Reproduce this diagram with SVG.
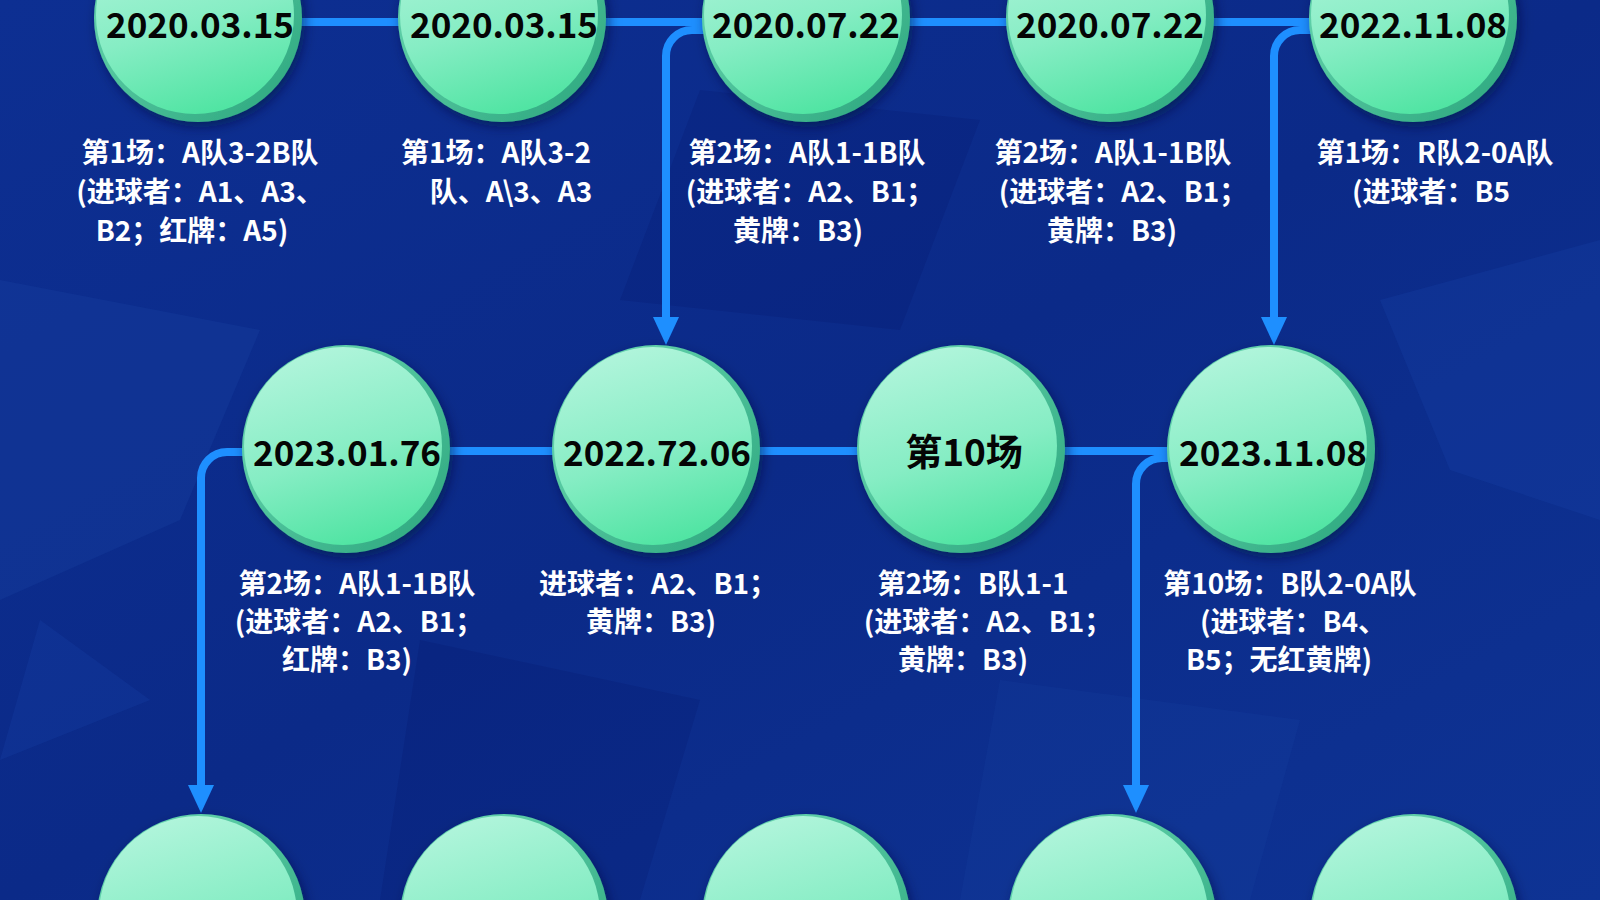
<svg xmlns="http://www.w3.org/2000/svg" width="1600" height="900" viewBox="0 0 1600 900">
<defs>
<linearGradient id="bg" x1="0" y1="0" x2="1" y2="1">
<stop offset="0" stop-color="#0d2f92"/>
<stop offset="0.5" stop-color="#0b2a88"/>
<stop offset="1" stop-color="#0e3394"/>
</linearGradient>
<linearGradient id="face" x1="0.3" y1="0" x2="0.6" y2="1">
<stop offset="0" stop-color="#b2f5dc"/>
<stop offset="0.55" stop-color="#86edc4"/>
<stop offset="1" stop-color="#4fe4a2"/>
</linearGradient>
<linearGradient id="rim" x1="0" y1="0" x2="1" y2="1">
<stop offset="0" stop-color="#6fdcb6"/>
<stop offset="1" stop-color="#2aa57c"/>
</linearGradient>
<filter id="sh" x="-30%" y="-30%" width="160%" height="160%">
<feDropShadow dx="3" dy="5" stdDeviation="6" flood-color="#020c3a" flood-opacity="0.55"/>
</filter>
<marker id="arr" markerUnits="userSpaceOnUse" markerWidth="28" markerHeight="28" viewBox="0 0 28 28" refX="8" refY="14" orient="auto">
<path d="M0,1 L28,14 L0,27 z" fill="#1e8fff"/>
</marker>
<g id="ball">
<circle r="104" fill="url(#rim)" filter="url(#sh)"/>
<circle cx="-3" cy="-3" r="99" fill="url(#face)"/>
</g>
</defs>
<style>
.lnk{fill:none;stroke:#1e8fff;stroke-width:8;}
.arw{marker-end:url(#arr);}
.dt{font-family:"Noto Sans CJK SC","Noto Sans",sans-serif;font-weight:700;font-size:35px;fill:#050505;text-anchor:middle;}
.dc{font-size:37px;}
.lb{font-family:"Noto Sans CJK SC","Noto Sans",sans-serif;font-weight:700;font-size:28px;fill:#ffffff;text-anchor:middle;}
</style>
<rect width="1600" height="900" fill="url(#bg)"/>
<g id="texture">
<polygon points="0,280 260,330 180,520 0,600" fill="#1a46a8" opacity="0.25"/>
<polygon points="700,90 980,120 900,330 620,300" fill="#000a50" opacity="0.12"/>
<polygon points="1380,300 1600,240 1600,520 1450,470" fill="#1d4ab0" opacity="0.22"/>
<polygon points="420,640 700,700 640,900 380,900" fill="#000a50" opacity="0.12"/>
<polygon points="1000,680 1300,720 1250,900 960,900" fill="#1a46a8" opacity="0.18"/>
<polygon points="40,620 150,700 0,760" fill="#1e4cb2" opacity="0.2"/>
</g>
<g id="connectors">
<path class="lnk" d="M300,22 H400 M604,22 H704 M908,22 H1008 M1212,22 H1311"/>
<path class="lnk arw" d="M706,30 H692 A26,26 0 0 0 666,56 V325"/>
<path class="lnk arw" d="M1312,30 H1300 A26,26 0 0 0 1274,56 V325"/>
<path class="lnk" d="M450,451 H556 M758,451 H860 M1064,451 H1168"/>
<path class="lnk arw" d="M244,452 H227 A26,26 0 0 0 201,478 V793"/>
<path class="lnk arw" d="M1168,458 H1162 A26,26 0 0 0 1136,484 V793"/>
</g>
<g id="n1"><use href="#ball" x="198" y="18"/><text class="dt" x="200" y="38">2020.03.15</text>
<text class="lb"><tspan x="200" y="163">第1场：A队3-2B队</tspan><tspan x="200" y="202">(进球者：A1、A3、</tspan><tspan x="192" y="241">B2；红牌：A5)</tspan></text></g>
<g id="n2"><use href="#ball" x="502" y="18"/><text class="dt" x="504" y="38">2020.03.15</text>
<text class="lb"><tspan x="496" y="163">第1场：A队3-2</tspan><tspan x="511" y="202">队、A\3、A3</tspan></text></g>
<g id="n3"><use href="#ball" x="806" y="18"/><text class="dt" x="806" y="38">2020.07.22</text>
<text class="lb"><tspan x="807" y="163">第2场：A队1-1B队</tspan><tspan x="810" y="202">(进球者：A2、B1；</tspan><tspan x="798" y="241">黄牌：B3)</tspan></text></g>
<g id="n4"><use href="#ball" x="1110" y="18"/><text class="dt" x="1110" y="38">2020.07.22</text>
<text class="lb"><tspan x="1113" y="163">第2场：A队1-1B队</tspan><tspan x="1123" y="202">(进球者：A2、B1；</tspan><tspan x="1112" y="241">黄牌：B3)</tspan></text></g>
<g id="n5"><use href="#ball" x="1413" y="18"/><text class="dt" x="1413" y="38">2022.11.08</text>
<text class="lb"><tspan x="1435" y="163">第1场：R队2-0A队</tspan><tspan x="1431" y="202">(进球者：B5</tspan></text></g>
<g id="n6"><use href="#ball" x="346" y="449"/><text class="dt" x="347" y="466">2023.01.76</text>
<text class="lb"><tspan x="357" y="594">第2场：A队1-1B队</tspan><tspan x="359" y="632">(进球者：A2、B1；</tspan><tspan x="347" y="670">红牌：B3)</tspan></text></g>
<g id="n7"><use href="#ball" x="656" y="449"/><text class="dt" x="657" y="466">2022.72.06</text>
<text class="lb"><tspan x="658" y="594">进球者：A2、B1；</tspan><tspan x="651" y="632">黄牌：B3)</tspan></text></g>
<g id="n8"><use href="#ball" x="961" y="449"/><text class="dt dc" x="964" y="466">第10场</text>
<text class="lb"><tspan x="973" y="594">第2场：B队1-1</tspan><tspan x="988" y="632">(进球者：A2、B1；</tspan><tspan x="963" y="670">黄牌：B3)</tspan></text></g>
<g id="n9"><use href="#ball" x="1271" y="449"/><text class="dt" x="1273" y="466">2023.11.08</text>
<text class="lb"><tspan x="1290" y="594">第10场：B队2-0A队</tspan><tspan x="1293" y="632">(进球者：B4、</tspan><tspan x="1279" y="670">B5；无红黄牌)</tspan></text></g>
<g id="n10"><use href="#ball" x="201" y="918"/></g>
<g id="n11"><use href="#ball" x="504" y="918"/></g>
<g id="n12"><use href="#ball" x="806" y="918"/></g>
<g id="n13"><use href="#ball" x="1112" y="918"/></g>
<g id="n14"><use href="#ball" x="1414" y="918"/></g>
</svg>
